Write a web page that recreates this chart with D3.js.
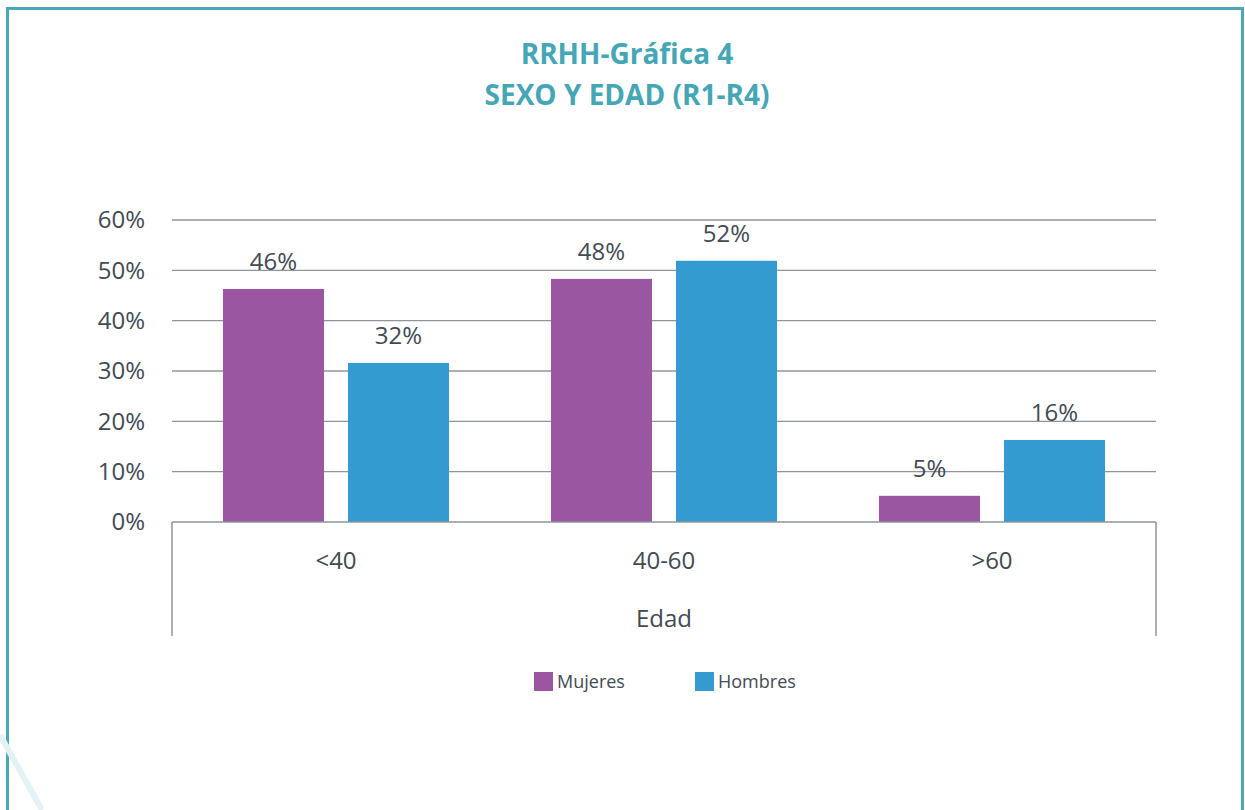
<!DOCTYPE html>
<html>
<head>
<meta charset="utf-8">
<script src="https://cdn.jsdelivr.net/npm/d3@7"></script>
<style>
  html, body { margin: 0; padding: 0; background: #fff; }
  svg { display: block; font-family: "Open Sans", "DejaVu Sans", sans-serif; }
</style>
</head>
<body>
<svg id="chart1" width="1245" height="810"></svg>
<script>
// chart data
var ageGroups = ["<40", "40-60", ">60"];
var seriesNames = ["Mujeres", "Hombres"];
var mujeres = [46.3, 48.3, 5.2];
var hombres = [31.6, 51.9, 16.3];
var mujeresLabels = ["46%", "48%", "5%"];
var hombresLabels = ["32%", "52%", "16%"];
var yTicks = [0, 10, 20, 30, 40, 50, 60];
var colors = ["#9b56a2", "#339bcf"];

var textColor = "#424a53";
var gridColor = "#8f959c";

var svg = d3.select("#chart1");

// frame around the chart
svg.append("path")
  .attr("d", "M7.5,810 L7.5,8.5 L1242.5,8.5 L1242.5,810")
  .attr("fill", "none")
  .attr("stroke", "#4aa8b8")
  .attr("stroke-width", 3);

// faint decoration bottom-left
svg.append("line")
  .attr("x1", 0).attr("y1", 735)
  .attr("x2", 42).attr("y2", 810)
  .attr("stroke", "#e3f3f5")
  .attr("stroke-width", 6);

// title
var title = svg.append("text")
  .attr("text-anchor", "middle")
  .attr("fill", "#45a6b6")
  .style("font-weight", "bold")
  .style("font-size", "28px");
title.append("tspan").attr("x", 627).attr("y", 64).text("RRHH-Gráfica 4");
title.append("tspan").attr("x", 627).attr("y", 105).text("SEXO Y EDAD (R1-R4)");

var margin = {top: 220, left: 172},
    width = 1156 - 172,
    height = 522 - 220;

var g = svg.append("g")
  .attr("transform", "translate(" + margin.left + "," + margin.top + ")");

var x0 = d3.scaleBand().domain(ageGroups).range([0, width]);
var y = d3.scaleLinear().domain([0, 60]).range([height, 0]);

// gridlines
g.append("g")
  .selectAll("line")
  .data(yTicks.slice(1))
  .enter()
  .append("line")
    .attr("x1", 0).attr("x2", width)
    .attr("y1", function(d) { return y(d); })
    .attr("y2", function(d) { return y(d); })
    .attr("stroke", gridColor)
    .attr("stroke-width", 1.3);

// y axis labels
var yAxis = g.append("g")
  .call(d3.axisLeft(y).tickValues(yTicks).tickFormat(function(d) { return d + "%"; }).tickSize(0).tickPadding(27));
yAxis.select(".domain").remove();
yAxis.selectAll("text")
  .attr("fill", textColor)
  .style("font-size", "24px")
  .style("font-family", "\"Open Sans\", \"DejaVu Sans\", sans-serif");

// bars
var barW = 101, gap = 24;
var rows = ageGroups.map(function(a, i) {
  return [
    {group: a, s: 0, v: mujeres[i], label: mujeresLabels[i]},
    {group: a, s: 1, v: hombres[i], label: hombresLabels[i]}
  ];
});

var groups = g.append("g")
  .selectAll("g")
  .data(rows)
  .enter()
  .append("g")
    .attr("transform", function(d) { return "translate(" + x0(d[0].group) + ",0)"; });

function barX(d) {
  var c = x0.bandwidth() / 2;
  return d.s == 0 ? c - gap / 2 - barW : c + gap / 2;
}

groups.selectAll("rect")
  .data(function(d) { return d; })
  .enter()
  .append("rect")
    .attr("x", barX)
    .attr("y", function(d) { return y(d.v); })
    .attr("width", barW)
    .attr("height", function(d) { return height - y(d.v); })
    .attr("fill", function(d) { return colors[d.s]; });

groups.selectAll("text")
  .data(function(d) { return d; })
  .enter()
  .append("text")
    .attr("x", function(d) { return barX(d) + barW / 2; })
    .attr("y", function(d) { return y(d.v) - 19; })
    .attr("text-anchor", "middle")
    .attr("fill", textColor)
    .style("font-size", "24px")
    .text(function(d) { return d.label; });

// baseline and outer category separators
g.append("line")
  .attr("x1", 0).attr("x2", width)
  .attr("y1", height).attr("y2", height)
  .attr("stroke", gridColor)
  .attr("stroke-width", 1.5);
g.selectAll(".sep")
  .data([0, width])
  .enter()
  .append("line")
    .attr("class", "sep")
    .attr("x1", function(d) { return d; }).attr("x2", function(d) { return d; })
    .attr("y1", height).attr("y2", height + 114)
    .attr("stroke", gridColor)
    .attr("stroke-width", 1.5);

// category labels
g.append("g")
  .selectAll("text")
  .data(ageGroups)
  .enter()
  .append("text")
    .attr("x", function(d) { return x0(d) + x0.bandwidth() / 2; })
    .attr("y", height + 47)
    .attr("text-anchor", "middle")
    .attr("fill", textColor)
    .style("font-size", "24px")
    .text(function(d) { return d; });

g.append("text")
  .attr("x", width / 2)
  .attr("y", height + 105)
  .attr("text-anchor", "middle")
  .attr("fill", textColor)
  .style("font-size", "24px")
  .text("Edad");

// legend
var legendX = [534, 695];
var legend = svg.append("g")
  .selectAll("g")
  .data(seriesNames)
  .enter()
  .append("g")
    .attr("transform", function(d, i) { return "translate(" + legendX[i] + ",672)"; });
legend.append("rect")
  .attr("width", 19).attr("height", 19)
  .attr("fill", function(d, i) { return colors[i]; });
legend.append("text")
  .attr("x", 23).attr("y", 16)
  .attr("fill", textColor)
  .style("font-size", "18px")
  .text(function(d) { return d; });
</script>
</body>
</html>
